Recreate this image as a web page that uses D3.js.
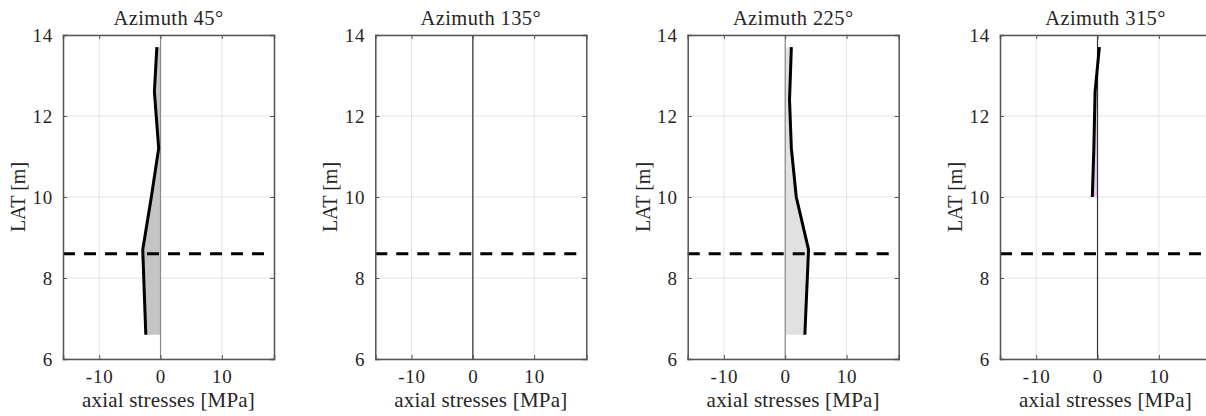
<!DOCTYPE html>
<html>
<head>
<meta charset="utf-8">
<script src="https://cdn.jsdelivr.net/npm/d3@7"></script>
<style>
  body { margin: 0; background: #fff; }
  svg text { font-family: 'Liberation Serif', 'Times New Roman', Tinos, 'DejaVu Serif', serif !important; fill: #262626; }
</style>
</head>
<body>
<svg id="chart" width="1206" height="416"></svg>
<script>
// data
var azimuths = [45, 135, 225, 315];
var lat45 = [13.7, 12.6, 12.0, 11.2, 10.0, 8.7, 6.6];
var stress45 = [-0.6, -1.0, -0.7, -0.3, -1.5, -2.9, -2.4];
var lat135 = [];
var stress135 = [];
var lat225 = [13.7, 12.4, 11.2, 10.0, 8.7, 6.6];
var stress225 = [1.0, 0.7, 1.0, 1.8, 3.8, 3.2];
var lat315 = [13.7, 12.6, 11.2, 10.0];
var stress315 = [0.3, -0.4, -0.6, -0.85];
var latTicks = [6, 8, 10, 12, 14];
var stressTicks = [-10, 0, 10];
var waterLevel = 8.6;
var waterLineEnd = 17;

var series = [
    {lat: lat45, stress: stress45, fill: '#c4c4c4', zero: '#8a8a8a'},
    {lat: lat135, stress: stress135, fill: '#dddddd', zero: '#333333'},
    {lat: lat225, stress: stress225, fill: '#e1e1e1', zero: '#8a8a8a'},
    {lat: lat315, stress: stress315, fill: '#e9c9e9', zero: '#333333'}
];

var serifFont = "'Liberation Serif', 'Times New Roman', Tinos, 'DejaVu Serif', serif";
var svg = d3.select('#chart');
var panelW = 211, panelTop = 35, panelBottom = 359;
var panelH = panelBottom - panelTop;
var lefts = [63, 375.3, 687.7, 1000];

azimuths.forEach(function(az, i) {
    var s = series[i];
    var x = d3.scaleLinear().domain([-15.9, 18.5]).range([0, panelW]);
    var y = d3.scaleLinear().domain([6, 14]).range([panelH, 0]);
    var g = svg.append('g').attr('transform', 'translate(' + lefts[i] + ',' + panelTop + ')');

    // grid
    g.selectAll('.gx').data(stressTicks).enter().append('line')
        .attr('x1', function(d){ return x(d); }).attr('x2', function(d){ return x(d); })
        .attr('y1', 0).attr('y2', panelH)
        .attr('stroke', '#e3e3e3').attr('stroke-width', 1);
    g.selectAll('.gy').data(latTicks).enter().append('line')
        .attr('x1', 0).attr('x2', panelW)
        .attr('y1', function(d){ return y(d); }).attr('y2', function(d){ return y(d); })
        .attr('stroke', '#e3e3e3').attr('stroke-width', 1);

    var pts = s.lat.map(function(l, k){ return [s.stress[k], l]; });

    // shaded area between curve and zero
    if (pts.length) {
        var area = d3.area()
            .x0(function(){ return x(0); })
            .x1(function(d){ return x(d[0]); })
            .y(function(d){ return y(d[1]); });
        g.append('path').datum(pts).attr('d', area).attr('fill', s.fill);
    }

    // zero line
    g.append('line')
        .attr('x1', x(0)).attr('x2', x(0)).attr('y1', 0).attr('y2', panelH)
        .attr('stroke', s.zero).attr('stroke-width', 1.2);

    // stress profile
    if (pts.length) {
        g.append('path').datum(pts)
            .attr('d', d3.line().x(function(d){ return x(d[0]); }).y(function(d){ return y(d[1]); }))
            .attr('fill', 'none').attr('stroke', '#000').attr('stroke-width', 3)
            .attr('stroke-linejoin', 'round');
    }

    // water level dashed line
    g.append('line')
        .attr('x1', x(-15.9)).attr('x2', x(waterLineEnd))
        .attr('y1', y(waterLevel)).attr('y2', y(waterLevel))
        .attr('stroke', '#000').attr('stroke-width', 3)
        .attr('stroke-dasharray', '12,9');

    // axes
    var fmt = function(d){ return String(d); };
    var xAxis = d3.axisBottom(x).tickValues(stressTicks).tickSize(-4).tickPadding(11).tickFormat(fmt);
    var xAxisTop = d3.axisTop(x).tickValues(stressTicks).tickSize(-4).tickFormat('');
    var yAxis = d3.axisLeft(y).tickValues(latTicks).tickSize(-4).tickPadding(10).tickFormat(fmt);
    var yAxisRight = d3.axisRight(y).tickValues(latTicks).tickSize(-4).tickFormat('');

    [g.append('g').attr('transform', 'translate(0,' + panelH + ')').call(xAxis),
     g.append('g').call(xAxisTop),
     g.append('g').call(yAxis),
     g.append('g').attr('transform', 'translate(' + panelW + ',0)').call(yAxisRight)
    ].forEach(function(a) {
        a.attr('font-family', serifFont).attr('font-size', 19);
        a.select('.domain').attr('stroke', '#555').attr('stroke-width', 1.5);
        a.selectAll('.tick line').attr('stroke', '#555');
        a.selectAll('.tick text').style('font-family', serifFont)
            .attr('font-size', 19).attr('letter-spacing', 0.8).attr('fill', '#262626');
    });

    // labels
    g.append('text').attr('x', panelW / 2).attr('y', -10)
        .attr('text-anchor', 'middle').attr('font-size', 20.5)
        .attr('letter-spacing', 0.4)
        .style('font-family', serifFont)
        .text('Azimuth ' + az + '\u00B0');
    g.append('text').attr('x', panelW / 2).attr('y', panelH + 48)
        .attr('text-anchor', 'middle').attr('font-size', 21)
        .attr('letter-spacing', 0.2)
        .style('font-family', serifFont)
        .text('axial stresses [MPa]');
    g.append('text')
        .attr('transform', 'translate(-38,' + (panelH / 2) + ') rotate(-90)')
        .attr('text-anchor', 'middle').attr('font-size', 20)
        .style('font-family', serifFont)
        .text('LAT [m]');
});
</script>
</body>
</html>
